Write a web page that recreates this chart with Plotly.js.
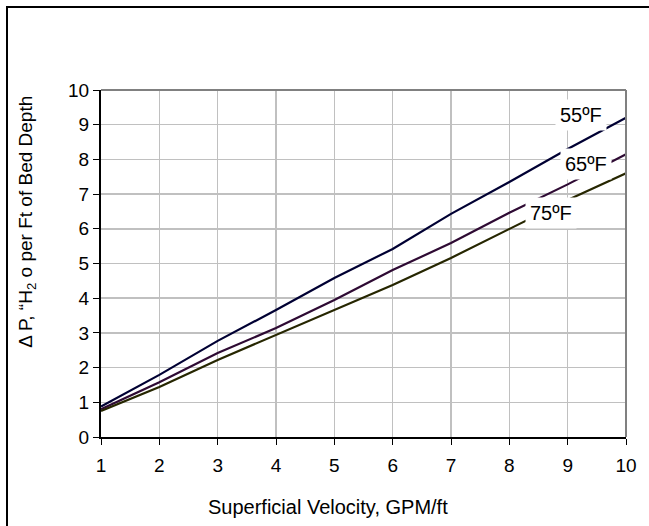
<!DOCTYPE html>
<html>
<head>
<meta charset="utf-8">
<script src="https://cdn.plot.ly/plotly-3.0.1.min.js"></script>
<style>
  html, body { margin: 0; padding: 0; background: #fff; }
  #wrap { position: relative; width: 649px; height: 526px; }
  #chart { position: absolute; left: 0; top: 0; width: 649px; height: 526px; }
  #frame { position: absolute; left: 6px; top: 6px; width: 660px; height: 540px;
           border-top: 2px solid #000; border-left: 2px solid #000; pointer-events: none; }
</style>
</head>
<body>
<div id="wrap">
  <div id="chart"></div>
  <div id="frame"></div>
</div>
<script>
const velocity = [1, 2, 3, 4, 5, 6, 7, 8, 9, 10];
const dp55 = [0.88, 1.79, 2.77, 3.66, 4.58, 5.42, 6.43, 7.35, 8.30, 9.20];
const dp65 = [0.80, 1.58, 2.42, 3.14, 3.95, 4.81, 5.59, 6.46, 7.28, 8.15];
const dp75 = [0.75, 1.44, 2.22, 2.94, 3.66, 4.38, 5.16, 6.00, 6.83, 7.60];
const seriesNames = ['55ºF', '65ºF', '75ºF'];
const labelX = [9.23, 9.31, 8.71];
const labelY = [9.28, 7.87, 6.46];

const font = 'Liberation Sans, Arial, sans-serif';
const colors = ['#000033', '#2e0a33', '#262600'];
const allY = [dp55, dp65, dp75];

const traces = allY.map((ys, i) => ({
  x: velocity, y: ys, type: 'scatter', mode: 'lines', name: seriesNames[i],
  line: { color: colors[i], width: 2.2 }, hoverinfo: 'skip'
}));

const annotations = seriesNames.map((t, i) => ({
  x: labelX[i], y: labelY[i], xref: 'x', yref: 'y', text: t, showarrow: false,
  bgcolor: '#ffffff', borderpad: 4, font: { family: font, size: 20, color: '#000' },
  xanchor: 'center', yanchor: 'middle'
}));
annotations.push({
  xref: 'paper', yref: 'paper', x: -0.141, y: 0.62, textangle: -90,
  text: 'Δ P, “H<sub>2</sub> o per Ft of Bed Depth', showarrow: false,
  font: { family: font, size: 19, color: '#000' }, xanchor: 'center', yanchor: 'middle'
});
annotations.push({
  xref: 'paper', yref: 'paper', x: 0.432, y: -0.202,
  text: 'Superficial Velocity, GPM/ft', showarrow: false,
  font: { family: font, size: 20, color: '#000' }, xanchor: 'center', yanchor: 'middle'
});

const layout = {
  width: 649, height: 526,
  margin: { l: 101, r: 23, t: 90, b: 89 },
  paper_bgcolor: '#fff', plot_bgcolor: '#fff',
  showlegend: false,
  font: { family: font, size: 19, color: '#000' },
  xaxis: {
    range: [1, 10], tickvals: velocity, ticks: 'outside', ticklen: 6, tickcolor: '#000',
    ticklabelstandoff: 4,
    showline: true, linecolor: '#000', linewidth: 2, zeroline: false,
    showgrid: true, gridcolor: '#c0c0c0', gridwidth: 1.5,
    tickfont: { family: font, size: 19, color: '#000' }
  },
  yaxis: {
    range: [0, 10], dtick: 1, ticks: 'outside', ticklen: 6, tickcolor: '#000',
    showline: true, linecolor: '#000', linewidth: 2, zeroline: false,
    showgrid: true, gridcolor: '#c0c0c0', gridwidth: 1.5,
    tickfont: { family: font, size: 19, color: '#000' }
  },
  shapes: [
    { type: 'line', xref: 'paper', yref: 'paper', x0: 0, x1: 1, y0: 1, y1: 1, line: { color: '#808080', width: 2 } },
    { type: 'line', xref: 'paper', yref: 'paper', x0: 1, x1: 1, y0: 0, y1: 1, line: { color: '#808080', width: 2 } }
  ],
  annotations: annotations
};

Plotly.newPlot('chart', traces, layout, { displayModeBar: false, staticPlot: true });
</script>
</body>
</html>
